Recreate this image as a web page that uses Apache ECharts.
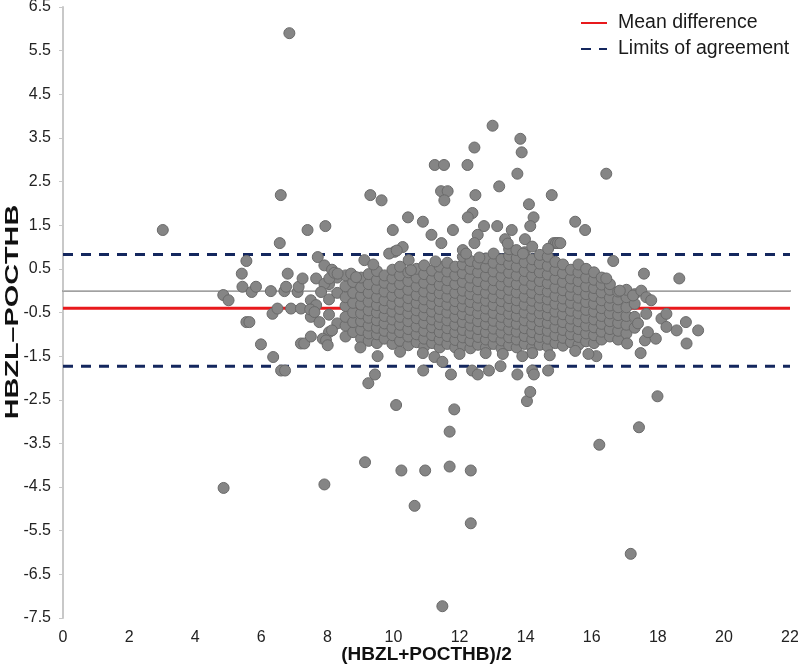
<!DOCTYPE html>
<html>
<head>
<meta charset="utf-8">
<script src="https://cdn.jsdelivr.net/npm/echarts@6/dist/echarts.min.js"></script>
<style>
html,body{margin:0;padding:0;background:#fff;}
#chart{width:798px;height:668px;}
</style>
</head>
<body>
<div id="chart"></div>
<script>
// Summary lines
const meanDiff = -0.40;
const upperLimit = 0.83;
const lowerLimit = -1.73;
const zeroLine = 0;
const xRange = [0, 22];

// Dense core of the cloud: [mean value, [differences...]]
const coreColumns = [
  [8.05, [-0.95, -0.55, -0.2, 0.15]],
  [8.3, [-0.75, -0.05, 0.3]],
  [8.55, [-1.05, -0.8, -0.6, -0.35, -0.15, 0.1, 0.35]],
  [8.78, [-0.95, -0.72, -0.5, -0.28, -0.05, 0.2]],
  [9.02, [-1.1, -0.9, -0.7, -0.52, -0.32, -0.12, 0.08, 0.3]],
  [9.25, [-1.15, -0.98, -0.8, -0.62, -0.45, -0.25, -0.05, 0.15, 0.38]],
  [9.5, [-1.2, -1.0, -0.85, -0.68, -0.5, -0.33, -0.15, 0.05, 0.25, 0.45]],
  [9.73, [-1.1, -0.92, -0.75, -0.58, -0.4, -0.22, -0.02, 0.18, 0.35]],
  [9.97, [-1.22, -1.02, -0.85, -0.66, -0.48, -0.3, -0.12, 0.08, 0.28, 0.48]],
  [10.2, [-1.15, -0.95, -0.78, -0.6, -0.42, -0.25, -0.05, 0.15, 0.35, 0.55]],
  [10.45, [-1.25, -1.05, -0.88, -0.7, -0.52, -0.35, -0.17, 0.02, 0.22, 0.42]],
  [10.7, [-1.18, -1.0, -0.82, -0.63, -0.45, -0.28, -0.1, 0.1, 0.3, 0.5]],
  [10.93, [-1.28, -1.1, -0.92, -0.74, -0.56, -0.38, -0.2, -0.02, 0.18, 0.38, 0.58]],
  [11.17, [-1.2, -1.02, -0.84, -0.66, -0.48, -0.3, -0.12, 0.06, 0.26, 0.46]],
  [11.4, [-1.3, -1.12, -0.95, -0.77, -0.6, -0.42, -0.24, -0.06, 0.13, 0.33, 0.55]],
  [11.63, [-1.22, -1.04, -0.86, -0.68, -0.5, -0.32, -0.14, 0.05, 0.24, 0.44, 0.64]],
  [11.87, [-1.3, -1.13, -0.95, -0.78, -0.6, -0.42, -0.24, -0.05, 0.15, 0.35, 0.55]],
  [12.1, [-1.25, -1.07, -0.9, -0.72, -0.54, -0.36, -0.18, 0.0, 0.2, 0.4, 0.6, 0.78]],
  [12.33, [-1.32, -1.15, -0.97, -0.8, -0.62, -0.44, -0.26, -0.08, 0.1, 0.3, 0.5, 0.68]],
  [12.56, [-1.24, -1.06, -0.88, -0.7, -0.52, -0.34, -0.16, 0.03, 0.22, 0.42, 0.62]],
  [12.8, [-1.3, -1.12, -0.95, -0.77, -0.59, -0.41, -0.23, -0.05, 0.14, 0.34, 0.54, 0.74]],
  [13.03, [-1.22, -1.05, -0.87, -0.69, -0.51, -0.33, -0.15, 0.04, 0.24, 0.44, 0.64, 0.85]],
  [13.27, [-1.32, -1.14, -0.96, -0.78, -0.6, -0.42, -0.24, -0.06, 0.13, 0.33, 0.53, 0.72]],
  [13.5, [-1.25, -1.07, -0.89, -0.71, -0.53, -0.35, -0.17, 0.02, 0.21, 0.41, 0.61, 0.8, 0.95]],
  [13.73, [-1.3, -1.12, -0.94, -0.76, -0.58, -0.4, -0.22, -0.04, 0.15, 0.35, 0.55, 0.75]],
  [13.97, [-1.22, -1.04, -0.86, -0.68, -0.5, -0.32, -0.14, 0.05, 0.25, 0.45, 0.65, 0.88]],
  [14.2, [-1.3, -1.12, -0.95, -0.77, -0.59, -0.41, -0.23, -0.05, 0.14, 0.34, 0.54, 0.72]],
  [14.43, [-1.24, -1.06, -0.88, -0.7, -0.52, -0.34, -0.16, 0.03, 0.22, 0.42, 0.62, 0.82]],
  [14.67, [-1.28, -1.1, -0.92, -0.74, -0.56, -0.38, -0.2, -0.02, 0.17, 0.37, 0.57, 0.78]],
  [14.9, [-1.2, -1.02, -0.84, -0.66, -0.48, -0.3, -0.12, 0.07, 0.27, 0.47, 0.66]],
  [15.13, [-1.26, -1.08, -0.9, -0.72, -0.54, -0.36, -0.18, 0.01, 0.2, 0.4, 0.6]],
  [15.37, [-1.18, -1.0, -0.82, -0.64, -0.46, -0.28, -0.1, 0.09, 0.28, 0.48]],
  [15.6, [-1.24, -1.06, -0.88, -0.7, -0.52, -0.34, -0.16, 0.03, 0.22, 0.42, 0.6]],
  [15.83, [-1.16, -0.98, -0.8, -0.62, -0.44, -0.26, -0.08, 0.1, 0.3, 0.5]],
  [16.07, [-1.2, -1.02, -0.84, -0.66, -0.48, -0.3, -0.12, 0.06, 0.25, 0.42]],
  [16.3, [-1.12, -0.94, -0.76, -0.58, -0.4, -0.22, -0.04, 0.14, 0.3]],
  [16.55, [-1.05, -0.88, -0.7, -0.52, -0.34, -0.16, 0.02, 0.15]],
  [16.8, [-1.12, -0.92, -0.74, -0.56, -0.38, -0.2, -0.02]],
  [17.05, [-0.98, -0.78, -0.58, -0.38, -0.15, 0.02]],
  [17.3, [-0.85, -0.6, -0.3, -0.08]]
];

// Scattered points outside the dense core: [mean, difference]
const scatteredTop = [
  [6.85,5.9],[3.02,1.39],[13.0,3.78],[13.84,3.48],[13.88,3.17],[12.45,3.28],[11.25,2.88],[11.53,2.88],
  [12.24,2.88],[13.75,2.68],[16.44,2.68],[13.2,2.39],[11.44,2.28],[11.64,2.28],[11.54,2.07],[6.59,2.19],
  [9.3,2.19],[9.64,2.07],[12.48,2.19],[14.79,2.19],[14.1,1.98],[12.39,1.78],[12.25,1.68],[10.44,1.68],
  [10.89,1.58],[14.24,1.68],[12.74,1.48],[13.14,1.48],[14.14,1.48],[15.5,1.58],[15.8,1.39],[7.4,1.39],
  [7.94,1.48],[9.98,1.39],[11.8,1.39],[11.15,1.28],[13.58,1.39],[12.55,1.28],[6.56,1.09],[11.45,1.09],
  [12.45,1.09],[13.38,1.18],[13.98,1.18],[14.85,1.09],[14.92,1.09],[14.98,1.09],[15.05,1.09]
];
const scatteredFringe = [
  [14.2,1.01],[14.68,0.96],[10.28,1.0],[10.03,0.89],[9.87,0.85],[10.1,0.92],[9.12,0.7],[9.39,0.6],
  [10.46,0.7],[10.53,0.47],[11.27,0.67],[12.1,0.93],[12.2,0.85],[12.6,0.76],[13.46,1.08],[13.72,0.93],
  [13.92,0.85],[16.65,0.68],[17.58,0.39],[18.65,0.28],[16.44,0.28],[8.72,0.39],[8.87,0.31],
  [9.0,-1.3],[9.52,-1.5],[10.89,-1.43],[11.24,-1.52],[12.79,-1.43],[13.31,-1.45],[14.2,-1.43],
  [14.73,-1.48],[16.14,-1.5],[17.48,-1.43],[17.07,-1.21],[17.61,-1.14],[17.94,-1.1],[18.87,-1.21],
  [10.2,-1.4],[12.0,-1.45],[13.9,-1.5],[15.5,-1.38],[15.9,-1.45],
  [16.85,0.0],[17.25,-0.11],[17.5,0.0],[17.65,-0.15],[17.8,-0.22],[18.11,-0.64],[18.26,-0.53],
  [17.65,-0.53],[18.85,-0.72],[18.57,-0.91],[18.26,-0.83],[19.22,-0.91],[17.4,-0.75],[17.7,-0.95]
];
const scatteredLeft = [
  [4.85,-0.1],[5.01,-0.22],[5.55,0.68],[5.41,0.39],[5.43,0.09],[5.71,-0.03],[5.84,0.09],[5.55,-0.72],
  [5.64,-0.72],[5.99,-1.23],[6.36,-1.52],[6.6,-1.83],[6.72,-1.83],[6.29,-0.01],[6.34,-0.53],[6.49,-0.41],
  [6.7,-0.01],[6.75,0.09],[6.8,0.39],[6.9,-0.41],[7.1,-0.03],[7.13,0.09],[7.25,0.28],[7.2,-0.41],
  [7.2,-1.21],[7.3,-1.21],[7.5,-1.05],[7.5,-0.6],[7.66,0.28],[7.71,0.77],[7.91,0.58],[7.86,-1.1],
  [7.96,-1.14],[8.01,-1.25],[7.5,-0.22],[7.66,-0.33],[7.48,-0.43],[7.61,-0.49],[7.76,-0.72],[8.14,-0.91],
  [7.91,0.16],[8.06,0.28],[8.14,0.48],[8.21,0.41],[8.31,0.39],[7.81,-0.03]
];
const scatteredBottom = [
  [4.86,-4.52],[7.91,-4.44],[9.14,-3.93],[10.24,-4.12],[10.96,-4.12],[11.7,-4.03],[12.34,-4.12],
  [10.64,-4.93],[12.34,-5.33],[11.48,-7.23],[17.18,-6.03],[16.23,-3.53],[17.43,-3.13],[17.99,-2.42],
  [10.08,-2.62],[11.84,-2.72],[11.7,-3.23],[14.04,-2.53],[14.14,-2.32],[9.24,-2.12],[9.44,-1.92],
  [10.9,-1.83],[11.74,-1.92],[12.38,-1.83],[12.55,-1.92],[12.89,-1.83],[13.24,-1.73],[13.75,-1.92],
  [14.2,-1.83],[14.25,-1.92],[14.68,-1.83],[11.48,-1.63]
];

const yTitle = 'HBZL–POCTHB';
const xTitle = '(HBZL+POCTHB)/2';

const points = [];
coreColumns.forEach(function (c) { c[1].forEach(function (d) { points.push([c[0], d]); }); });
[scatteredTop, scatteredFringe, scatteredLeft, scatteredBottom].forEach(function (arr) {
  arr.forEach(function (p) { points.push(p); });
});

const FONT = "'Liberation Sans', Arial, sans-serif";
const chart = echarts.init(document.getElementById('chart'), null, { renderer: 'canvas' });

function hLine(name, y, color, width, type, z) {
  return {
    name: name, type: 'line', data: [[xRange[0], y], [xRange[1], y]],
    symbol: 'none', silent: true, z: z, animation: false,
    itemStyle: { color: color },
    lineStyle: { color: color, width: width, type: type }
  };
}

chart.setOption({
  animation: false,
  backgroundColor: '#ffffff',
  grid: { left: 63, right: 8, top: 7, bottom: 50, containLabel: false, outerBoundsMode: 'none' },
  legend: {
    data: ['Mean difference', 'Limits of agreement'],
    orient: 'vertical', left: 575, top: 8, itemWidth: 26, itemHeight: 14, itemGap: 6,
    itemStyle: { opacity: 0 },
    textStyle: { fontFamily: FONT, fontSize: 19.5, color: '#1a1a1a', padding: [0, 0, 0, 6] }
  },
  graphic: [{
    type: 'text', x: 13, y: 312, rotation: Math.PI / 2, scaleX: 1.6, scaleY: 1,
    style: { text: yTitle, font: "bold 18px 'Liberation Sans', Arial, sans-serif",
      fill: '#111', align: 'center', verticalAlign: 'middle' }
  }],
  xAxis: {
    type: 'value', min: 0, max: 22, interval: 2,
    name: xTitle, nameLocation: 'middle', nameGap: 27, nameMoveOverlap: false,
    nameTextStyle: { fontFamily: FONT, fontSize: 19, fontWeight: 'bold', color: '#111' },
    axisLine: { show: true, lineStyle: { color: '#9a9a9a', width: 2 } },
    axisTick: { show: false },
    axisLabel: { fontFamily: FONT, fontSize: 16, color: '#222', margin: 12 },
    splitLine: { show: false }
  },
  yAxis: {
    type: 'value', min: -7.5, max: 6.5, interval: 1,
    axisLine: { show: true, onZero: false, lineStyle: { color: '#c8c8c8', width: 2 } },
    axisTick: { show: true, inside: false, length: 4, lineStyle: { color: '#c8c8c8', width: 1 } },
    axisLabel: { fontFamily: FONT, fontSize: 16, color: '#222', margin: 12,
      formatter: function (v) { return v.toFixed(1); } },
    splitLine: { show: false }
  },
  series: [
    hLine('zero', zeroLine, '#c4c4c4', 1, 'solid', 1),
    hLine('Mean difference', meanDiff, '#e8191c', 3, 'solid', 2),
    hLine('Limits of agreement', upperLimit, '#14275e', 3, [10, 8], 2),
    hLine('Limits of agreement', lowerLimit, '#14275e', 3, [10, 8], 2),
    {
      name: 'data', type: 'scatter', data: points, z: 5, symbol: 'circle', symbolSize: 11,
      itemStyle: { color: '#858585', borderColor: '#6a6a6a', borderWidth: 1, opacity: 1 },
      silent: true, animation: false
    }
  ]
});
</script>
</body>
</html>
